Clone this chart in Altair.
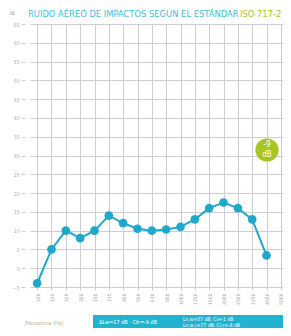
import altair as alt
import pandas as pd

freqs = ["100", "125", "160", "200", "250", "315", "400", "500", "630", "800",
         "1000", "1250", "1600", "2000", "2500", "3150", "4000", "5000"]
levels = [-4, 5, 10, 8, 10, 14, 12, 10.5, 10, 10.3, 11, 13, 16, 17.5, 16, 13, 3.4]
y_ticks = list(range(-5, 70, 5))

title_main = "RUIDO AÉREO DE IMPACTOS SEGÚN EL ESTÁNDAR"
title_iso = "ISO 717-2"
badge_lines = ["-9", "dB"]
x_title = "Frecuencia (Hz)"
box_left = "ΔLw=17 dB · Ctr=-9 dB"
box_right = ["Ln,w=57 dB; Ci=-1 dB", "Ln,w,r=77 dB; Ci,r=-9 dB"]

TEAL = "#1fa8c9"
GREEN = "#a9c521"
GRID = "#cfccd6"
LABEL = "#a9a9a9"
FONT = "DejaVu Sans Condensed, DejaVu Sans, sans-serif"

df = pd.DataFrame({"freq": freqs[:len(levels)], "level": levels})
one = pd.DataFrame({"k": [0]})

x_enc = alt.X("freq:O", sort=freqs,
              scale=alt.Scale(type="point", domain=freqs, range=[5, 263]),
              axis=alt.Axis(title=None, labelAngle=270, labelFontSize=5,
                            labelColor=LABEL, labelFont=FONT, grid=True,
                            gridColor=GRID, tickColor=GRID, tickSize=3,
                            domain=False, labelPadding=3, labelBaseline="middle",
                            labelAlign="right"))
y_enc = alt.Y("level:Q",
              scale=alt.Scale(domain=[-5, 65], nice=False, zero=False),
              axis=alt.Axis(title=None, values=y_ticks, labelFontSize=5,
                            labelColor=LABEL, labelFont=FONT, grid=True,
                            gridColor=GRID, tickColor=GRID, tickSize=4,
                            domain=False, labelPadding=2))

line = alt.Chart(df).mark_line(color=TEAL, strokeWidth=2).encode(x=x_enc, y=y_enc)
pts = alt.Chart(df).mark_circle(color=TEAL, size=75, opacity=1).encode(x=x_enc, y=y_enc)

def txt(s, x, y, color, size, align="left", baseline="middle", weight="normal", font=FONT):
    return alt.Chart(one).mark_text(text=s, color=color, fontSize=size, align=align,
                                    baseline=baseline, fontWeight=weight, font=font).encode(
        x=alt.value(x), y=alt.value(y))

t1 = txt(title_main, 3, -14.5, "#45bcd7", 9.3, baseline="top")
t2 = txt(title_iso, 215, -14.5, GREEN, 9.3, baseline="top")
tdb = txt("dB", -16, -13, LABEL, 5, baseline="top")

badge = alt.Chart(one).mark_circle(color=GREEN, size=540, opacity=1).encode(
    x=alt.value(242), y=alt.value(126))
b1 = txt(badge_lines[0], 242, 121, "white", 8, align="center")
b2 = txt(badge_lines[1], 242, 131, "white", 8, align="center")

xt = txt(x_title, 0, 299, "#b4ad7a", 5.5)
box = alt.Chart(one).mark_rect(color="#22b2d0").encode(
    x=alt.value(68), x2=alt.value(262), y=alt.value(291), y2=alt.value(310))
bl = txt(box_left, 74, 298, "white", 5.5)
br1 = txt(box_right[0], 158, 295, "white", 5)
br2 = txt(box_right[1], 158, 301, "white", 5)

chart = alt.layer(line, pts, t1, t2, tdb, badge, b1, b2, xt, box, bl, br1, br2).properties(
    width=258, height=263,
    autosize=alt.AutoSizeParams(type="none"),
    padding={"left": 17, "top": 16, "right": 0, "bottom": 41},
    background="white",
).configure_view(stroke=None)

chart.save("out.html", embed_options={"renderer": "svg", "actions": False})
